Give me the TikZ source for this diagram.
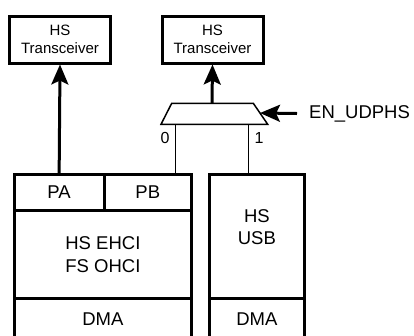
\documentclass[tikz,border=0pt]{standalone}
\usepackage{fontspec}
\setmainfont{Liberation Sans}
\usetikzlibrary{arrows.meta}

\tikzset{
  blk/.style={draw, line width=3pt, inner sep=0pt, align=center,
    font=\fontsize{18.5}{22.7}\selectfont},
  xcvr/.style={draw, line width=3pt, inner sep=0pt, align=center,
    minimum width=101pt, minimum height=47pt,
    font=\fontsize{15}{18.3}\selectfont},
  bus/.style={line width=3pt, -{Stealth[length=20pt,width=17pt,inset=4pt]}},
  wire/.style={line width=1.5pt},
}

\begin{document}
\begin{tikzpicture}[x=1pt,y=-1pt]
    \useasboundingbox (0,0) rectangle (414,335);

    \node[xcvr] (txa) at (60,39.5)    {HS\\Transceiver};
    \node[xcvr] (txb) at (212.5,39.5) {HS\\Transceiver};

    % mux
    \coordinate (mtl) at (171.7,103.3);
    \coordinate (mtr) at (253.3,103.3);
    \coordinate (mbr) at (267.7,124.3);
    \coordinate (mbl) at (161,124.3);
    \coordinate (mout) at (212,103.3);
    \coordinate (min0) at (175.7,124.3);
    \coordinate (min1) at (248.3,124.3);
    \coordinate (msel) at (260,113);
    \draw[wire, line join=miter] (mtl) -- (mtr) -- (mbr) -- (mbl) -- cycle;

    % host block
    \node[blk, minimum width=89.7pt, minimum height=36pt]   (pa)   at (59.15,192.3) {PA};
    \node[blk, minimum width=87.5pt, minimum height=36pt]   (pb)   at (147.75,192.3) {PB};
    \node[blk, minimum width=177.2pt, minimum height=88.4pt] (ehci) at (102.9,254.5) {HS EHCI\\FS OHCI};
    \node[blk, minimum width=177.2pt, minimum height=40.6pt] (dmaa) at (102.9,319) {DMA};

    % device block
    \node[blk, minimum width=94.8pt, minimum height=124pt]  (usb)  at (256.9,236) {};
    \node[blk, draw=none] (usbtxt) at ([yshift=9pt]usb.center) {HS\\USB};
    \node[blk, minimum width=94.8pt, minimum height=41.3pt] (dmab) at (256.9,318.65) {DMA};

    \node[font=\fontsize{18.5}{22}\selectfont, anchor=west, inner xsep=12pt, inner ysep=0pt]
        (sel) at (297,113.5) {EN\_UDPHS};
    \node[font=\fontsize{16}{19}\selectfont, inner sep=0pt] (lbla) at (165,137.5) {0};
    \node[font=\fontsize{16}{19}\selectfont, inner sep=0pt] (lblb) at (259,137.5) {1};

    \draw[bus] (pa.north) -- (txa.south);
    \draw[bus] (mout) -- (txb.south);
    \draw[bus] (sel.west) -- (msel);
    \draw[wire] (min0) -- (min0 |- pb.north);
    \draw[wire] (min1) -- (min1 |- usb.north);
\end{tikzpicture}
\end{document}
